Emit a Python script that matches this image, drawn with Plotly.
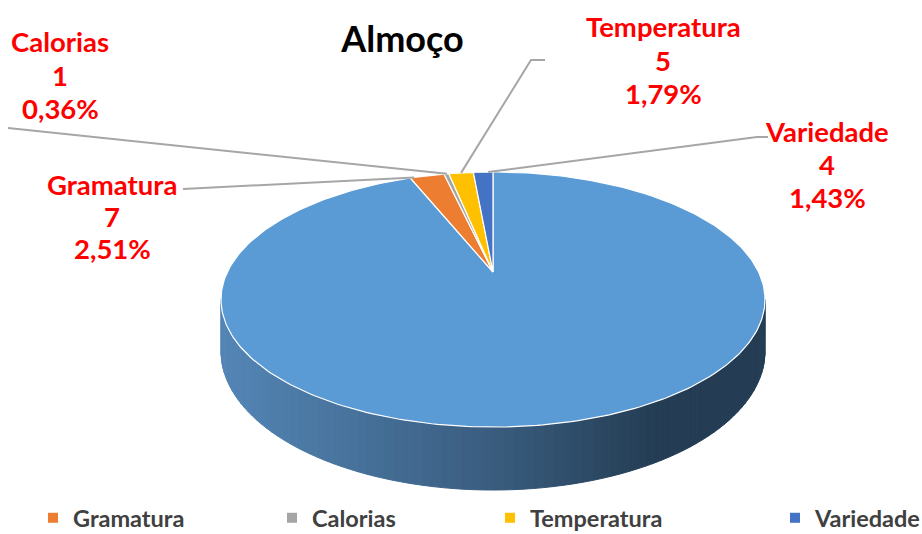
import numpy as np
import plotly.graph_objects as go

# ---------------- data ----------------
categories = ["Outros", "Gramatura", "Calorias", "Temperatura", "Variedade"]
values = [262, 7, 1, 5, 4]
colors = ["#5B9BD5", "#ED7D31", "#A5A5A5", "#FFC000", "#4472C4"]
legend_categories = ["Gramatura", "Calorias", "Temperatura", "Variedade"]
title_text = "Almoço"

# ---------------- geometry (layout of the 3D pie) ----------------
CX, CY = 493.0, 272.0      # projected centre of the pie top
A, B = 265.6, 121.6        # horizontal / vertical radii
K = 0.2157                 # perspective factor
DEPTH = 49.4               # thickness of the disc


def proj(theta_deg, h=0.0):
    t = np.radians(theta_deg)
    X, Z = np.sin(t), np.cos(t)
    s = 1.0 + K * Z
    return CX + A * X / s, CY - B * Z / s + h * DEPTH / s


total = float(sum(values))
starts = np.concatenate([[0.0], np.cumsum(values)[:-1]]) / total * 360.0
ends = np.cumsum(values) / total * 360.0

fig = go.Figure()

# ---- side wall (visible front part, belongs to the first/big slice) ----
edge = np.degrees(np.arccos(-K))          # silhouette angles
th_a, th_b = edge, 360.0 - edge
N = 90
grid = np.linspace(th_a, th_b, N + 1)
c_left = np.array([84, 134, 182])
c_mid = np.array([58, 93, 127])
c_right = np.array([36, 61, 84])
for i in range(N):
    seg = np.linspace(grid[i], grid[i + 1], 4)
    xt, yt = proj(seg, 0.0)
    xb, yb = proj(seg[::-1], 1.0)
    xs = np.concatenate([xt, xb, xt[:1]])
    ys = np.concatenate([yt, yb, yt[:1]])
    xm = float(np.mean(xt))
    u = (xm - (CX - A * 1.024)) / (2 * A * 1.024)
    if u < 0.5:
        c = c_left + (c_mid - c_left) * (u / 0.5)
    else:
        c = c_mid + (c_right - c_mid) * min(1.0, (u - 0.5) / 0.3)
    col = "rgb(%d,%d,%d)" % tuple(int(v) for v in c)
    fig.add_trace(go.Scatter(x=xs, y=ys, mode="lines", fill="toself",
                             fillcolor=col, line=dict(color=col, width=1),
                             hoverinfo="skip", showlegend=False))

# ---- top faces of the slices ----
for cat, s, e, col in zip(categories, starts, ends, colors):
    n = max(3, int((e - s) / 1.0) + 2)
    th = np.linspace(s, e, n)
    xa, ya = proj(th, 0.0)
    xs = np.concatenate([[CX], xa, [CX]])
    ys = np.concatenate([[CY], ya, [CY]])
    fig.add_trace(go.Scatter(x=xs, y=ys, mode="lines", fill="toself",
                             fillcolor=col, line=dict(color="white", width=1.2),
                             name=cat, hoverinfo="name", showlegend=False))

# ---- data labels with leader lines ----
label_pos = {  # centre x, centre y of each text line, leader start points,
               # and where along the slice arc the leader ends (0..1)
    "Calorias": dict(x=60, ys=[41, 75, 108], lead=[(8, 128)], frac=0.6),
    "Gramatura": dict(x=112, ys=[184, 216, 248], lead=[(183, 189)], frac=0.12),
    "Temperatura": dict(x=663, ys=[26, 60, 93], lead=[(545, 60), (531, 60)],
                        frac=0.5),
    "Variedade": dict(x=827, ys=[131, 164, 197], lead=[(768, 137), (757, 137)],
                      frac=0.75),
}
for cat, v, s, e in zip(categories, values, starts, ends):
    if cat not in label_pos:
        continue
    p = label_pos[cat]
    mx, my = proj(s + (e - s) * p["frac"], 0.0)
    lx = [pt[0] for pt in p["lead"]] + [float(mx)]
    ly = [pt[1] for pt in p["lead"]] + [float(my)]
    fig.add_trace(go.Scatter(x=lx, y=ly, mode="lines",
                             line=dict(color="#A6A6A6", width=2),
                             hoverinfo="skip", showlegend=False))
    pct = ("%.2f%%" % (v / total * 100)).replace(".", ",")
    for txt, yy in zip([cat, str(v), pct], p["ys"]):
        fig.add_annotation(x=p["x"], y=yy, xref="x", yref="y", text=txt,
                           showarrow=False, xanchor="center",
                           yanchor="middle",
                           font=dict(family="Lato", size=27.5,
                                     color="#FF0000", weight="bold"))

# ---- legend (one legend box per entry, spread like the original) ----
legend_x = [33, 272, 490, 775]
cmap = dict(zip(categories, colors))
for i, (cat, lx) in enumerate(zip(legend_categories, legend_x)):
    lname = "legend" if i == 0 else "legend%d" % (i + 1)
    fig.add_trace(go.Scatter(x=[None], y=[None], mode="markers",
                             marker=dict(symbol="square", size=10,
                                         color=cmap[cat]),
                             name=cat, legend=lname, showlegend=True))
    fig.update_layout(**{lname: dict(
        x=lx / 922.0, y=16 / 534.0, xanchor="left", yanchor="middle",
        orientation="h", bgcolor="rgba(0,0,0,0)",
        font=dict(family="Lato", size=23.5, color="#404040", weight="bold"))})

fig.update_layout(
    width=922, height=534,
    margin=dict(l=0, r=0, t=0, b=0, autoexpand=False),
    paper_bgcolor="white", plot_bgcolor="white",
    title=dict(text=title_text, x=402.5 / 922.0, y=1 - 39 / 534.0,
               xanchor="center", yanchor="middle",
               font=dict(family="Lato", size=36, color="black",
                         weight="bold")),
    xaxis=dict(range=[0, 922], visible=False, fixedrange=True),
    yaxis=dict(range=[534, 0], visible=False, fixedrange=True),
    hovermode="closest",
)

fig.write_html("out.html", config={"displayModeBar": False},
               post_script="document.body.style.margin='0';")
